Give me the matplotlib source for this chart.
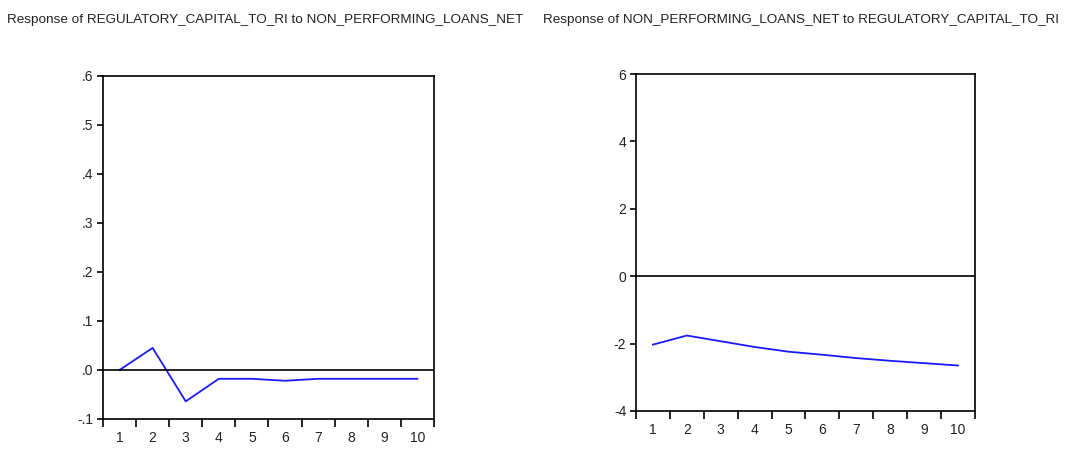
import matplotlib
matplotlib.use('Agg')
import matplotlib.pyplot as plt
from matplotlib.ticker import FixedLocator, FuncFormatter

plt.rcParams['font.family'] = ['Liberation Sans', 'DejaVu Sans']

periods = [1, 2, 3, 4, 5, 6, 7, 8, 9, 10]
resp_capital = [0.0, 0.045, -0.064, -0.018, -0.018, -0.022, -0.018, -0.018, -0.018, -0.018]
resp_npl = [-2.03, -1.76, -1.93, -2.10, -2.24, -2.33, -2.43, -2.51, -2.58, -2.65]

title_left = 'Response of REGULATORY_CAPITAL_TO_RI to NON_PERFORMING_LOANS_NET'
title_right = 'Response of NON_PERFORMING_LOANS_NET to REGULATORY_CAPITAL_TO_RI'
yticks_left = [-0.1, 0.0, 0.1, 0.2, 0.3, 0.4, 0.5, 0.6]
yticks_right = [-4, -2, 0, 2, 4, 6]


def dec_fmt(v, pos):
    s = '%.1f' % v
    return s.replace('0.', '.')


def style_axis(ax, yticks, fmt):
    ax.set_xlim(0.5, 10.5)
    ax.set_ylim(yticks[0], yticks[-1])
    ax.set_yticks(yticks)
    ax.yaxis.set_major_formatter(FuncFormatter(fmt))
    ax.set_xticks(periods)
    ax.xaxis.set_minor_locator(FixedLocator([p + 0.5 for p in [0] + periods]))
    ax.tick_params(axis='x', which='major', length=0, pad=9, labelsize=10)
    ax.tick_params(axis='x', which='minor', length=6, width=1.2, direction='out')
    ax.tick_params(axis='y', length=4, width=1.2, direction='out', pad=3, labelsize=10)
    ax.tick_params(axis='both', which='both', colors='black', labelcolor='#222222')
    for sp in ax.spines.values():
        sp.set_linewidth(1.2)
    ax.axhline(0, color='black', lw=1.2)


fig = plt.figure(figsize=(10.68, 4.51), dpi=100)

ax1 = fig.add_axes([0.0964, 0.071, 0.310, 0.7605])
ax1.plot(periods, resp_capital, c='#1a1aff', lw=1.3)
style_axis(ax1, yticks_left, dec_fmt)

ax2 = fig.add_axes([0.5955, 0.0887, 0.3174, 0.747])
ax2.plot(periods, resp_npl, c='#1a1aff', lw=1.3)
style_axis(ax2, yticks_right, lambda v, pos: '%d' % v)

fig.text(0.248, 0.955, title_left, ha='center', va='center', fontsize=9.7, color='#222222')
fig.text(0.750, 0.955, title_right, ha='center', va='center', fontsize=9.7, color='#222222')

plt.savefig('out.png', dpi=100)
plt.close()
